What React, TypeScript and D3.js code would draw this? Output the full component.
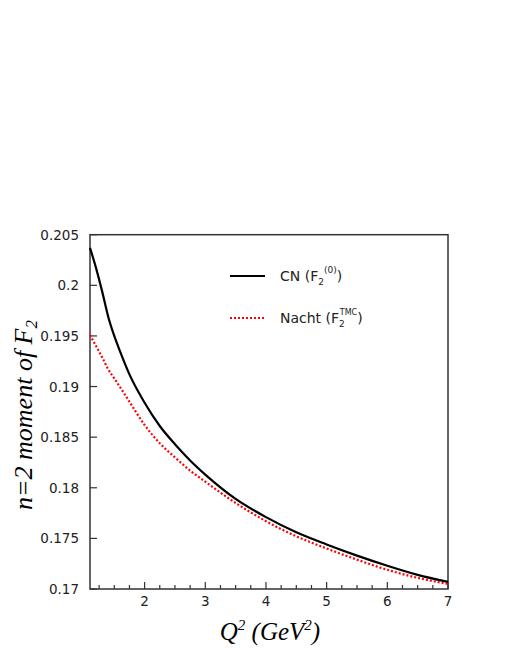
import React from 'react';
import * as d3 from 'd3';

// Q^2 sample points (GeV^2)
const q2 = [1.1, 1.2, 1.3, 1.4, 1.5, 1.6, 1.75, 2.0, 2.25, 2.5, 2.75, 3.0, 3.5, 4.0, 4.5, 5.0, 5.5, 6.0, 6.5, 7.0];
// CN (F2^(0))
const cnVals = [0.2037, 0.2017, 0.1994, 0.1969, 0.1950, 0.1934, 0.1912, 0.1884, 0.1861, 0.1843, 0.1827, 0.1813, 0.1789, 0.1771, 0.1756, 0.1744, 0.1733, 0.1723, 0.1714, 0.1707];
// Nachtmann (F2^TMC)
const nachtVals = [0.1951, 0.1940, 0.1929, 0.1917, 0.1908, 0.1899, 0.1885, 0.1862, 0.1844, 0.1830, 0.1817, 0.1806, 0.1785, 0.1767, 0.1752, 0.1740, 0.1729, 0.1719, 0.1711, 0.1705];

const xTicks = [2, 3, 4, 5, 6, 7];
const yTicks = [0.17, 0.175, 0.18, 0.185, 0.19, 0.195, 0.2, 0.205];
const yTickLabels = ['0.17', '0.175', '0.18', '0.185', '0.19', '0.195', '0.2', '0.205'];

const W = 510;
const H = 660;
const m = { left: 90, right: 448, top: 234.7, bottom: 589 };

export default function App() {
  const x = d3.scaleLinear().domain([1.1, 7]).range([m.left, m.right]);
  const y = d3.scaleLinear().domain([0.17, 0.205]).range([m.bottom, m.top]);

  const line = d3
    .line<number>()
    .x((_, i) => x(q2[i]))
    .y((d) => y(d))
    .curve(d3.curveMonotoneX);

  // minor ticks every 0.25
  const minor = d3.range(1.25, 7.0001, 0.25).filter((v) => Math.abs(v - Math.round(v)) > 1e-6);

  const axisCol = '#333';
  const tickFont = "'DejaVu Sans', sans-serif";
  const serif = "'Liberation Serif', 'Times New Roman', serif";

  return (
    <svg
      width={W}
      height={H}
      style={{ position: 'absolute', left: 0, top: 0, background: '#fff' }}
    >
      {/* frame */}
      <rect
        x={m.left}
        y={m.top}
        width={m.right - m.left}
        height={m.bottom - m.top}
        fill="none"
        stroke={axisCol}
        strokeWidth={1.5}
      />

      {/* y ticks */}
      {yTicks.map((t, i) => (
        <g key={'y' + i}>
          <line x1={m.left} x2={m.left + 7} y1={y(t)} y2={y(t)} stroke={axisCol} strokeWidth={1.2} />
          <text x={79} y={y(t) + 5} textAnchor="end" fontFamily={tickFont} fontSize={13.5} fill="#222">
            {yTickLabels[i]}
          </text>
        </g>
      ))}

      {/* x ticks */}
      {xTicks.map((t) => (
        <g key={'x' + t}>
          <line x1={x(t)} x2={x(t)} y1={m.bottom} y2={m.bottom - 7} stroke={axisCol} strokeWidth={1.2} />
          <text x={x(t)} y={m.bottom + 17} textAnchor="middle" fontFamily={tickFont} fontSize={13.5} fill="#222">
            {t}
          </text>
        </g>
      ))}
      {minor.map((t) => (
        <line key={'mx' + t} x1={x(t)} x2={x(t)} y1={m.bottom} y2={m.bottom - 4} stroke={axisCol} strokeWidth={1.2} />
      ))}

      {/* curves */}
      <path d={line(nachtVals) || ''} fill="none" stroke="#ff0000" strokeWidth={2.2} strokeDasharray="2,2" />
      <path d={line(cnVals) || ''} fill="none" stroke="#000" strokeWidth={2.2} />

      {/* legend */}
      <line x1={230} x2={265} y1={276} y2={276} stroke="#000" strokeWidth={2.2} />
      <text x={280} y={281} fontFamily={tickFont} fontSize={14} fill="#222">
        CN (F
        <tspan dy={4} fontSize={9}>2</tspan>
        <tspan dy={-12} fontSize={9}>(0)</tspan>
        <tspan dy={8}>)</tspan>
      </text>
      <line x1={230} x2={265} y1={318} y2={318} stroke="#ff0000" strokeWidth={2.2} strokeDasharray="2,2" />
      <text x={280} y={323} fontFamily={tickFont} fontSize={14} fill="#222">
        Nacht (F
        <tspan dy={4} fontSize={9}>2</tspan>
        <tspan dx={-5} dy={-12} fontSize={8}>TMC</tspan>
        <tspan dy={8}>)</tspan>
      </text>

      {/* axis titles */}
      <text
        transform="translate(32,415) rotate(-90)"
        textAnchor="middle"
        fontFamily={serif}
        fontStyle="italic"
        fontSize={26}
        fill="#000"
      >
        n=2 moment of F
        <tspan dy={5} fontSize={17}>2</tspan>
      </text>
      <text x={270} y={640} textAnchor="middle" fontFamily={serif} fontStyle="italic" fontSize={25} fill="#000">
        Q<tspan dy={-10} fontSize={15}>2</tspan>
        <tspan dy={10}> (GeV</tspan>
        <tspan dy={-10} fontSize={15}>2</tspan>
        <tspan dy={10}>)</tspan>
      </text>
    </svg>
  );
}
